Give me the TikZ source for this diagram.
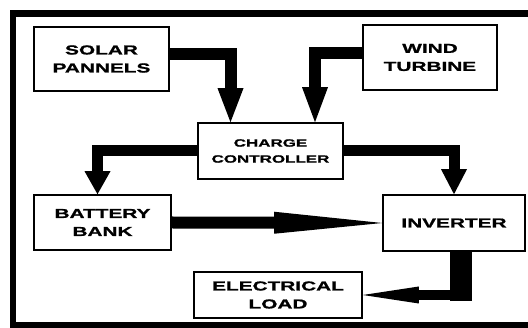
\documentclass[tikz,border=0pt]{standalone}
\usepackage{fontspec}
\newfontfamily\blockfont[FakeStretch=1.6,FakeBold=1.2]{Liberation Sans Bold}
\usetikzlibrary{arrows.meta}
\tikzset{
  block/.style={draw, line width=1.6pt, fill=white, align=center, inner sep=0pt,
    font=\blockfont\fontsize{13}{18}\selectfont},
  flow/.style={line width=12pt, line join=miter},
}
\begin{document}
\begin{tikzpicture}[x=1pt, y=-1pt]
  \useasboundingbox (0,0) rectangle (528,328);
  \clip (0,0) rectangle (528,328);
  \draw[line width=6.5pt] (13,13.5) rectangle (545,325);
  % blocks
  \node[block, minimum width=135pt, minimum height=64pt] (solar) at (101.5,59) {SOLAR\\PANNELS};
  \node[block, minimum width=134pt, minimum height=65pt] (wind) at (430,57.5) {WIND\\TURBINE};
  \node[block, minimum width=145pt, minimum height=56pt,
    font=\blockfont\fontsize{10.6}{16}\selectfont] (cc) at (270.5,151) {CHARGE\\CONTROLLER};
  \node[block, minimum width=137pt, minimum height=55pt] (battery) at (102.5,222.5) {BATTERY\\BANK};
  \node[block, minimum width=142pt, minimum height=56pt] (inverter) at (454,223) {INVERTER};
  \node[block, minimum width=168pt, minimum height=46pt] (load) at (278,295) {ELECTRICAL\\LOAD};
  % power flow
  \draw[flow, -{Triangle[width=26pt,length=34pt,line width=0pt]}] ([yshift=5pt]solar.east) -| ([xshift=-40pt]cc.north);
  \draw[flow, -{Triangle[width=26pt,length=35pt,line width=0pt]}] ([yshift=4.5pt]wind.west) -| ([xshift=44.5pt]cc.north);
  \draw[flow, line width=11pt, -{Triangle[width=26pt,length=23pt,line width=0pt]}] (cc.west) -| ([xshift=-5pt]battery.north);
  \draw[flow, line width=11pt, -{Triangle[width=26pt,length=25pt,line width=0pt]}] (cc.east) -| (inverter.north);
  \draw[flow, -{Triangle[width=22pt,length=108pt,line width=0pt]}] (battery.east) -- (inverter.west);
  \draw[line width=22pt] ([xshift=7pt]inverter.south) -- ++(0,49);
  \draw[flow, line width=10pt, -{Triangle[width=17pt,length=56pt,line width=0pt]}] ([xshift=7pt]inverter.south) |- (load.east);
\end{tikzpicture}
\end{document}
